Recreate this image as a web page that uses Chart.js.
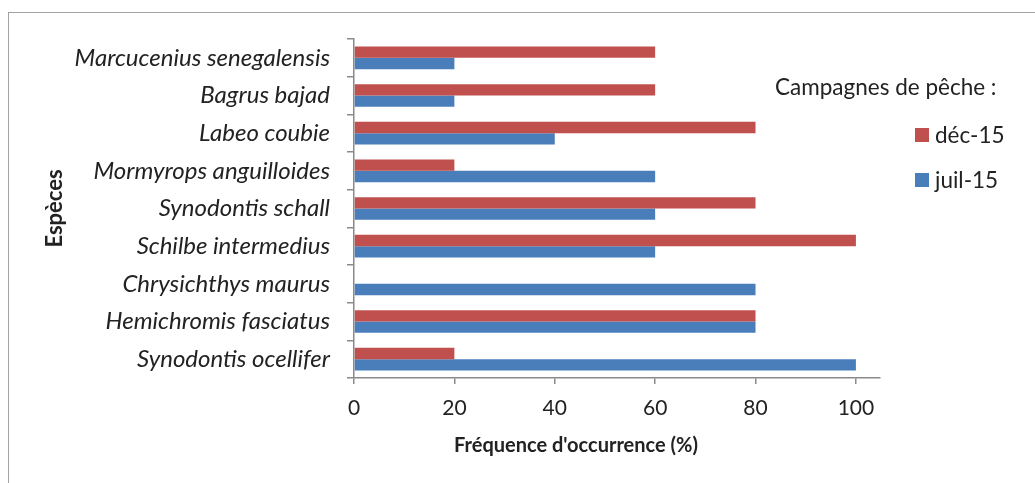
<!DOCTYPE html>
<html>
<head>
<meta charset="utf-8">
<script src="https://cdn.jsdelivr.net/npm/chart.js@4"></script>
<style>
  html, body { margin: 0; padding: 0; background: #fff; overflow: hidden; }
  #wrap { position: relative; width: 1035px; height: 483px; overflow: hidden; }
  #frame { position: absolute; left: 8px; top: 12px; width: 1100px; height: 600px; border: 1.5px solid #a3a3a3; box-sizing: border-box; }
  canvas { position: absolute; left: 0; top: 0; }
</style>
</head>
<body>
<div id="wrap">
  <div id="frame"></div>
  <canvas id="c" width="1035" height="483"></canvas>
</div>
<script>
const species = ['Marcucenius senegalensis', 'Bagrus bajad', 'Labeo coubie', 'Mormyrops anguilloides', 'Synodontis schall', 'Schilbe intermedius', 'Chrysichthys maurus', 'Hemichromis fasciatus', 'Synodontis ocellifer'];
const dec15 = [60, 60, 80, 20, 80, 100, 0, 80, 20];
const juil15 = [20, 20, 40, 60, 60, 60, 80, 80, 100];
const seriesLabels = ['déc-15', 'juil-15'];
const xTickValues = [0, 20, 40, 60, 80, 100];
const xTitle = "Fréquence d'occurrence (%)";
const yTitle = 'Espèces';
const legendTitle = 'Campagnes de pêche :';

const FONT = "Lato, 'Open Sans', sans-serif";
const TEXT = '#222222';
const AXIS = '#8a8a8a';

const overlay = {
  id: 'overlay',
  afterDraw(chart) {
    const ctx = chart.ctx;
    ctx.save();
    // x-axis title
    ctx.fillStyle = TEXT;
    ctx.font = 'bold 20px ' + FONT;
    ctx.textAlign = 'center';
    ctx.textBaseline = 'middle';
    ctx.fillText(xTitle, 576, 446);
    // legend
    ctx.font = '22.5px ' + FONT;
    ctx.textAlign = 'left';
    ctx.fillText(legendTitle, 775, 88);
    const ys = [135, 180];
    chart.data.datasets.forEach((ds, i) => {
      ctx.fillStyle = ds.backgroundColor;
      ctx.fillRect(915, ys[i] - 7, 14, 14);
      ctx.fillStyle = TEXT;
      ctx.fillText(ds.label, 935, ys[i] + 1);
    });
    ctx.restore();
  }
};

new Chart(document.getElementById('c'), {
  type: 'bar',
  data: {
    labels: species,
    datasets: [
      { label: seriesLabels[0], data: dec15, backgroundColor: '#C0504D', borderWidth: 0 },
      { label: seriesLabels[1], data: juil15, backgroundColor: '#4A7EBB', borderWidth: 0 }
    ]
  },
  options: {
    indexAxis: 'y',
    responsive: false,
    devicePixelRatio: 1,
    animation: false,
    layout: { padding: { top: 39, right: 155, bottom: 0, left: 0 } },
    datasets: { bar: { categoryPercentage: 0.6, barPercentage: 1.0 } },
    plugins: { legend: { display: false }, tooltip: { enabled: false } },
    scales: {
      y: {
        type: 'category',
        position: 'left',
        afterFit(scale) { scale.width = 354; },
        grid: { display: true, drawOnChartArea: false, drawTicks: true, tickLength: 7, color: AXIS, lineWidth: 1.5, offset: true },
        border: { display: true, color: AXIS, width: 1.5 },
        ticks: { color: TEXT, padding: 17, font: { family: FONT, size: 24, style: 'italic' } },
        title: { display: true, text: yTitle, color: TEXT, padding: { top: 42, bottom: 0 }, font: { family: FONT, size: 22, weight: 'bold' } }
      },
      x: {
        type: 'linear',
        position: 'bottom',
        min: 0,
        max: 104.8,
        afterFit(scale) { scale.height = 105; },
        afterBuildTicks(scale) { scale.ticks = xTickValues.map(v => ({ value: v })); },
        grid: { display: true, drawOnChartArea: false, drawTicks: true, tickLength: 6, color: AXIS, lineWidth: 1.5 },
        border: { display: true, color: AXIS, width: 1.5 },
        ticks: { color: TEXT, padding: 12, font: { family: FONT, size: 21 } },
        title: { display: false }
      }
    }
  },
  plugins: [overlay]
});
</script>
</body>
</html>
